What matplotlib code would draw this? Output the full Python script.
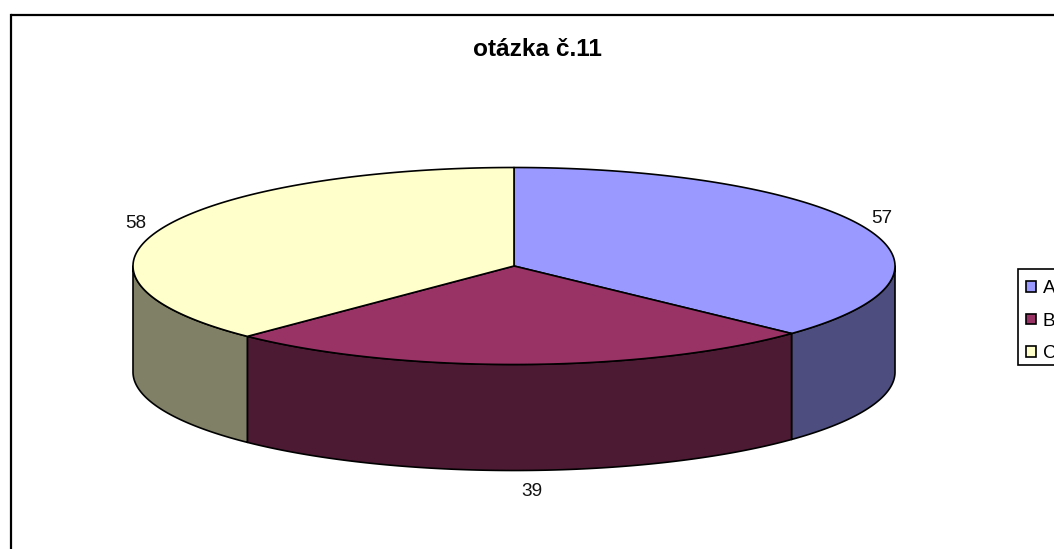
import numpy as np
import matplotlib
matplotlib.use("Agg")
import matplotlib.pyplot as plt
from matplotlib.patches import Polygon, Rectangle

plt.rcParams['font.family'] = ['Liberation Sans', 'DejaVu Sans']

# data
kategorie = ["A", "B", "C"]
hodnoty = [57, 39, 58]
barvy = ["#9999FF", "#993366", "#FFFFCC"]
barvy_bok = ["#4D4D80", "#4D1A33", "#808066"]
titulek = "otázka č.11"

# geometry of the pie in pixels
cx, cy = 514, 266
rx, ry = 381, 98.5
hloubka = 106

fig = plt.figure(figsize=(10.54, 5.49), dpi=100)
ax = fig.add_axes([0, 0, 1, 1])
ax.set_xlim(0, 1054)
ax.set_ylim(549, 0)
ax.axis("off")

def bod(t):
    return cx + rx * np.sin(t), cy - ry * np.cos(t)

hrany = np.cumsum([0] + hodnoty) / sum(hodnoty) * 2 * np.pi

# sides first, only the part of the rim facing the viewer
for i in range(3):
    a = max(hrany[i], np.pi / 2)
    b = min(hrany[i + 1], 3 * np.pi / 2)
    if b <= a:
        continue
    t = np.linspace(a, b, 200)
    x, y = bod(t)
    horni = np.column_stack([x, y])
    dolni = np.column_stack([x, y + hloubka])[::-1]
    ax.add_patch(Polygon(np.vstack([horni, dolni]), closed=True, fc=barvy_bok[i],
                         ec="black", lw=1.2, joinstyle="round"))

# top of the slices
for i in range(3):
    t = np.linspace(hrany[i], hrany[i + 1], 300)
    x, y = bod(t)
    pts = np.vstack([[cx, cy], np.column_stack([x, y])])
    ax.add_patch(Polygon(pts, closed=True, fc=barvy[i], ec="black", lw=1.2, joinstyle="round"))

# value labels, y is the baseline
popisky_xy = [(881.5, 223), (531.5, 495.5), (135.5, 228)]
for h, (px, py) in zip(hodnoty, popisky_xy):
    ax.text(px, py, str(h), fontsize=13.7, ha="center", va="baseline", color="#111111")

ax.text(537.5, 56.5, titulek, fontsize=17.6, fontweight="bold", ha="center", va="baseline")

# chart frame, runs off the right and bottom edge
ax.plot([11.3, 11.3], [549, 15], color="black", lw=1.6, solid_capstyle="projecting")
ax.plot([11.3, 1054], [15, 15], color="black", lw=1.6, solid_capstyle="butt")

# legend box cut by the image edge
ax.add_patch(Rectangle((1017.5, 269), 60, 96, fc="white", ec="black", lw=1.2))
for i, (k, yy) in enumerate(zip(kategorie, [286.5, 319, 351.5])):
    ax.add_patch(Rectangle((1025.5, yy - 5.2), 10.5, 10.5, fc=barvy[i], ec="black", lw=1.2))
    ax.text(1042.5, yy + 6.5, k, fontsize=13.7, ha="left", va="baseline", color="black")

fig.savefig("out.png", dpi=100)
